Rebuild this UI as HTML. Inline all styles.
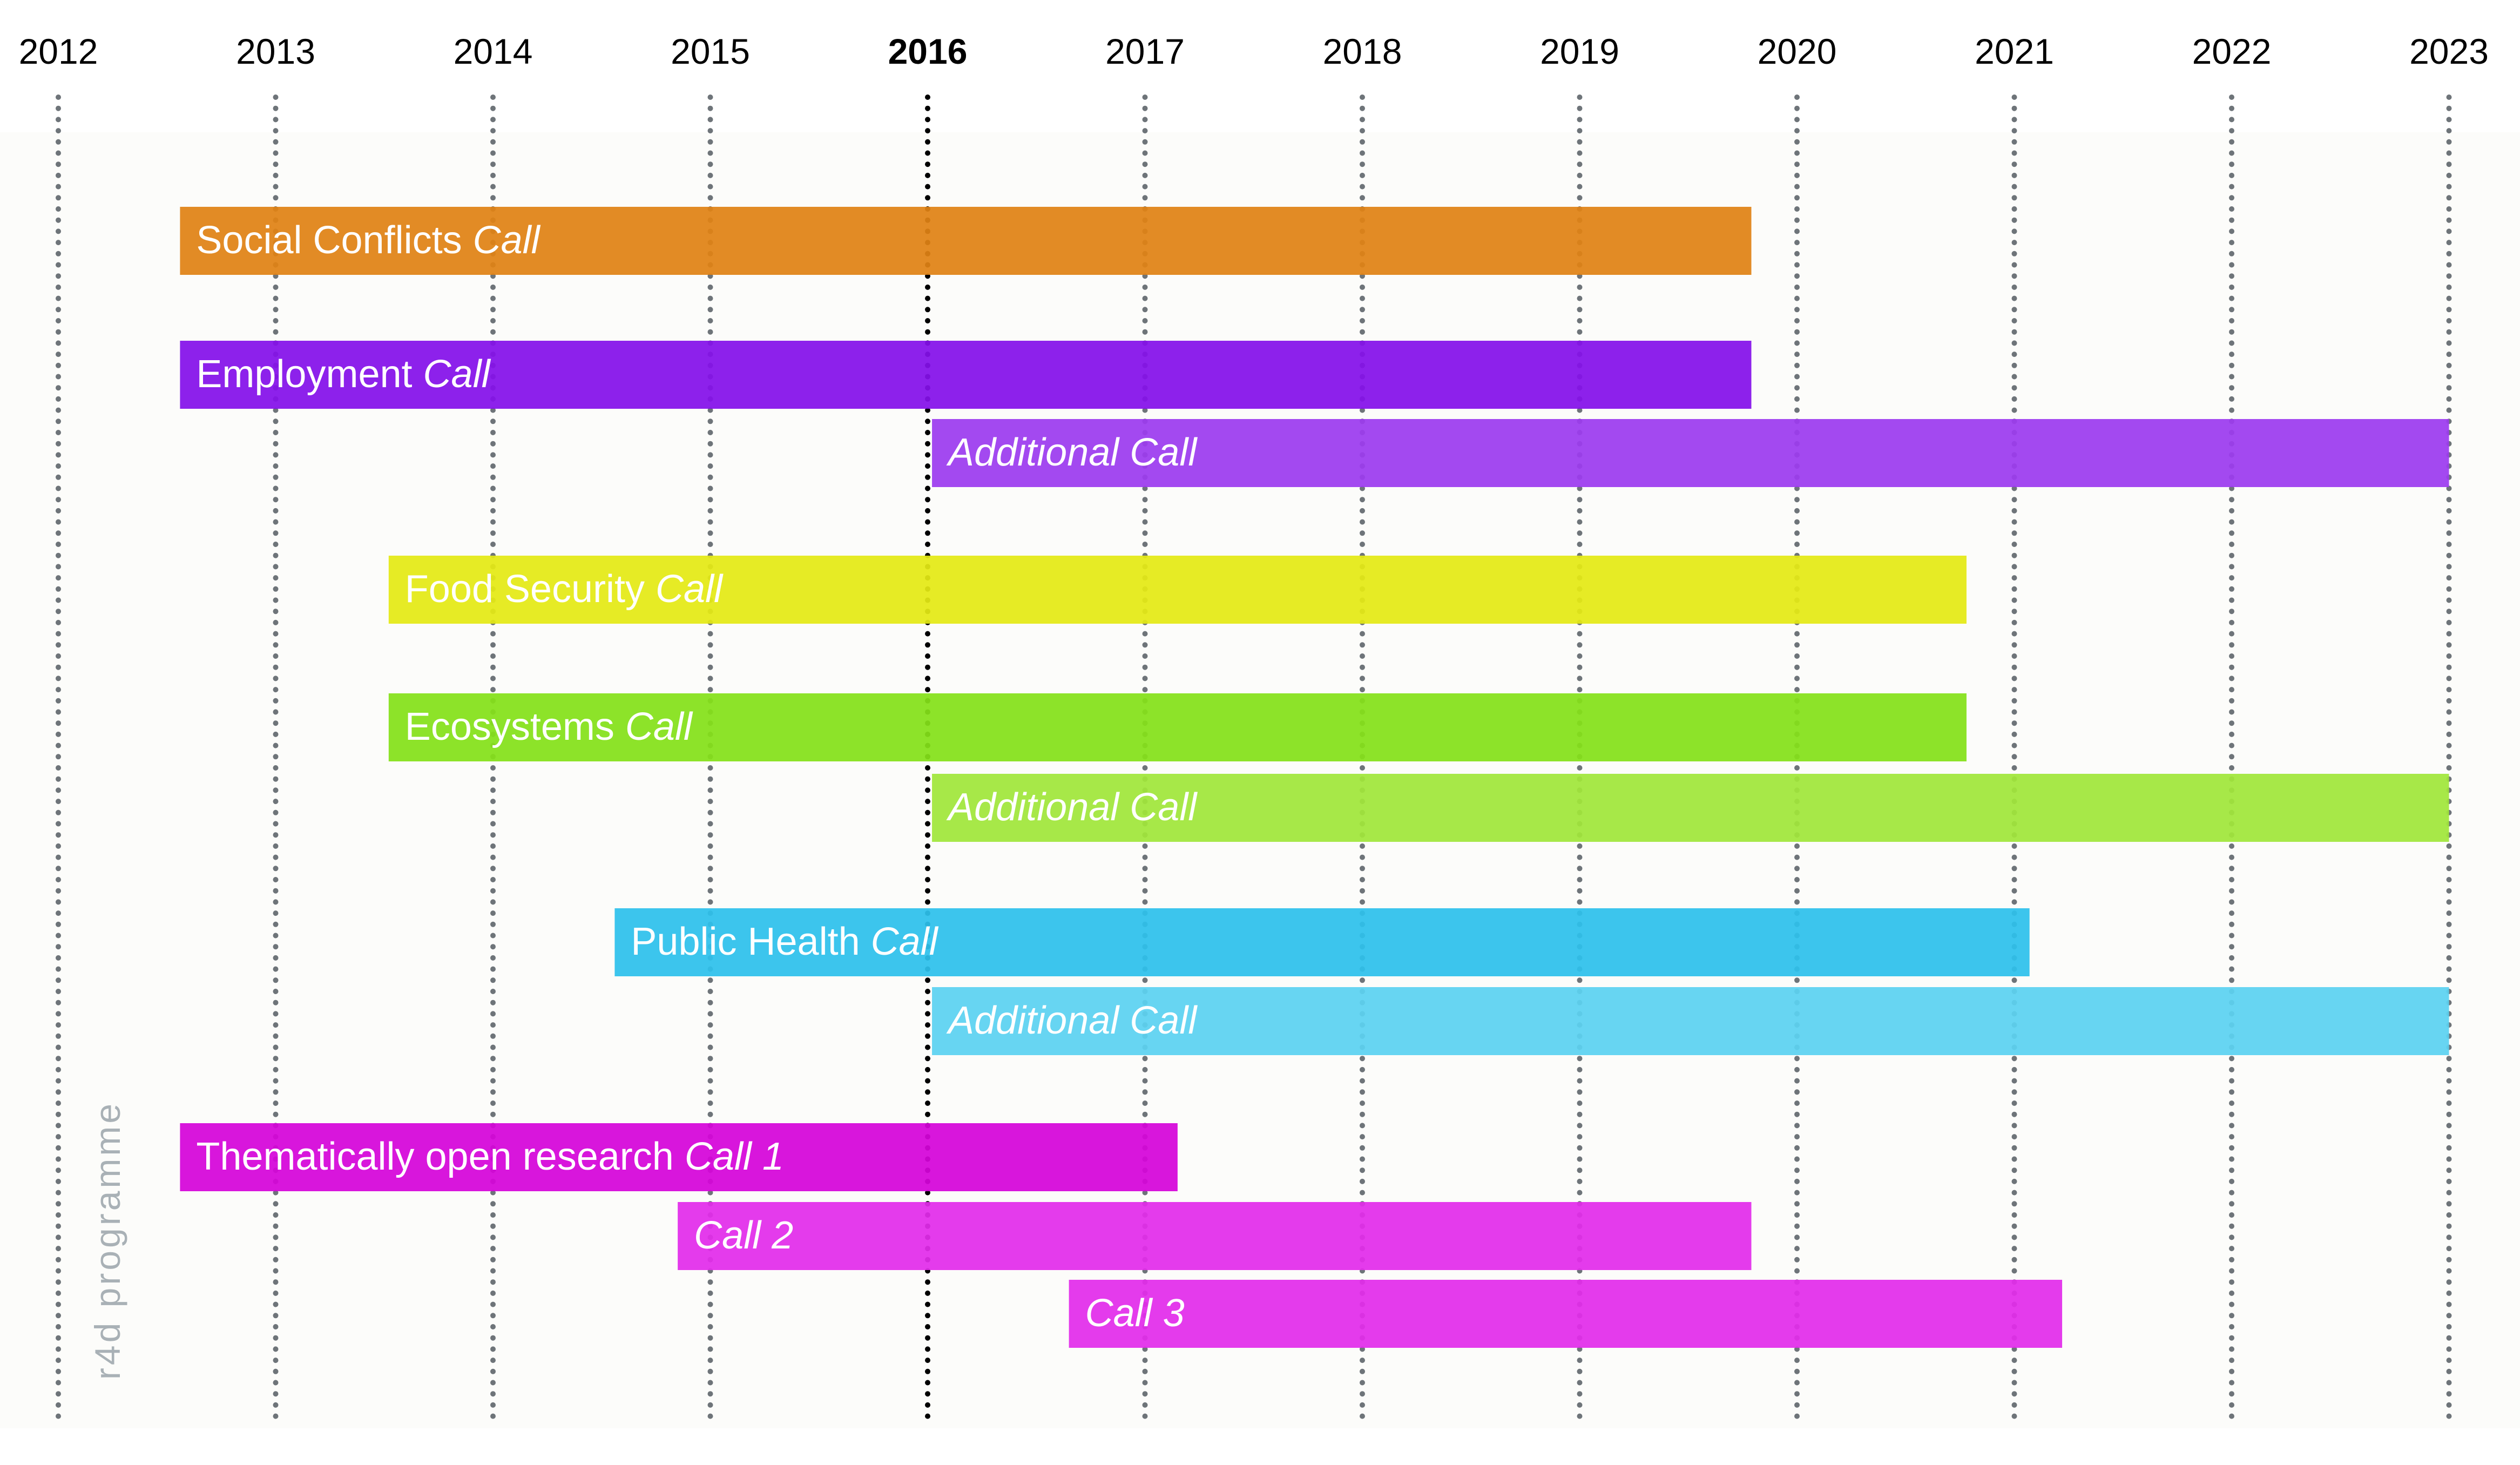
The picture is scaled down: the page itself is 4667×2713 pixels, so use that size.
<!DOCTYPE html>
<html><head><meta charset="utf-8"><style>
html,body{margin:0;padding:0;background:#fff;}
svg{display:block;font-family:"Liberation Sans",sans-serif;}
</style></head><body>
<svg id="chart" width="4667" height="2713" viewBox="0 0 4667 2713" xmlns="http://www.w3.org/2000/svg">
<rect x="0" y="245" width="4667" height="2400" fill="#fcfcfa"/>
<g id="grid"></g>
<g id="bars"></g>
<g id="ticks"></g>
<text transform="translate(222,2297) rotate(-90)" text-anchor="middle" font-size="66" letter-spacing="5" fill="#a9b1b6">r4d programme</text>
</svg>
<script>
const years = [2012,2013,2014,2015,2016,2017,2018,2019,2020,2021,2022,2023];
const barLabels = ["Social Conflicts","Employment","","Food Security","Ecosystems","","Public Health","","Thematically open research","",""];
const barItalic = ["Call","Call","Additional Call","Call","Call","Additional Call","Call","Additional Call","Call 1","Call 2","Call 3"];
const barStart = [2012.56,2012.56,2016.02,2013.52,2013.52,2016.02,2014.56,2016.02,2012.56,2014.85,2016.65];
const barEnd = [2019.79,2019.79,2023,2020.78,2020.78,2023,2021.07,2023,2017.15,2019.79,2021.22];
const barRow = [0,1,2,3,4,5,6,7,8,9,10];
const barColors = ["#e08214","#8410e9","#9c3bef","#e4ea14","#84e119","#a0e63a","#2dc1ec","#5bd2f1","#d504d9","#e22ceb","#e22ceb"];
const rowTops = [383,631,776,1029,1284,1433,1682,1828,2080,2226,2370];

const NS="http://www.w3.org/2000/svg";
const x = y => 108 + 402.5*(y-2012);
const BH = 126;
const grid=document.getElementById('grid'), bars=document.getElementById('bars'), ticks=document.getElementById('ticks');

years.forEach(yr=>{
  const l=document.createElementNS(NS,'line');
  
  
  l.setAttribute('x1',x(yr));l.setAttribute('x2',x(yr));
  l.setAttribute('y1',180);l.setAttribute('y2',2632);
  l.setAttribute('stroke',yr===2016?'#000':'#6e7479');
  l.setAttribute('stroke-width',10);
  l.setAttribute('stroke-linecap','round');
  l.setAttribute('stroke-dasharray','0 20.7');
  grid.appendChild(l);
  const t=document.createElementNS(NS,'text');
  
  
  t.setAttribute('x',x(yr));t.setAttribute('y',118);
  t.setAttribute('text-anchor','middle');
  t.setAttribute('font-size',66);
  t.setAttribute('fill','#000');
  if(yr===2016)t.setAttribute('font-weight','bold');
  t.textContent=yr;
  ticks.appendChild(t);
});

barStart.forEach((s,i)=>{
  const top=rowTops[barRow[i]];
  const r=document.createElementNS(NS,'rect');
  
  
  r.setAttribute('x',x(s));r.setAttribute('y',top);
  r.setAttribute('width',x(barEnd[i])-x(s));r.setAttribute('height',BH);
  r.setAttribute('fill',barColors[i]);
  r.setAttribute('fill-opacity',0.93);
  bars.appendChild(r);
  const t=document.createElementNS(NS,'text');
  
  
  t.setAttribute('x',x(s)+30);t.setAttribute('y',top+86);
  t.setAttribute('font-size',72);t.setAttribute('fill','#fff');
  if(barLabels[i]){
    const a=document.createElementNS(NS,'tspan');a.textContent=barLabels[i]+' ';t.appendChild(a);
  }
  const b=document.createElementNS(NS,'tspan');b.setAttribute('font-style','italic');b.textContent=barItalic[i];t.appendChild(b);
  bars.appendChild(t);
});
</script>
</body></html>
